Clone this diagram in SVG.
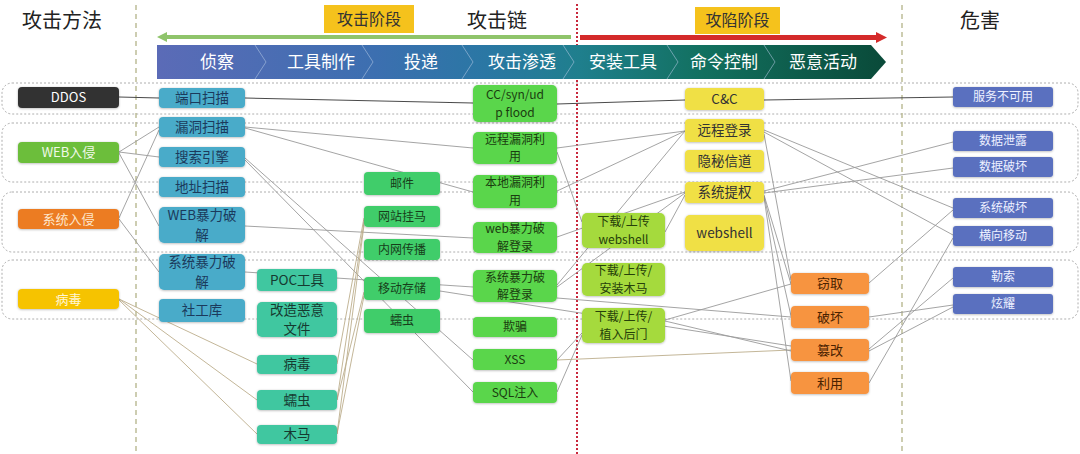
<svg xmlns="http://www.w3.org/2000/svg" width="1080" height="454" viewBox="0 0 1080 454">
<defs>
<linearGradient id="bar" gradientUnits="userSpaceOnUse" x1="157" y1="0" x2="886" y2="0">
<stop offset="0" stop-color="#5b6bb7"/>
<stop offset="0.3" stop-color="#3c6fb0"/>
<stop offset="0.45" stop-color="#2a77a4"/>
<stop offset="0.58" stop-color="#1f7f8d"/>
<stop offset="0.75" stop-color="#12705f"/>
<stop offset="1" stop-color="#0a4a39"/>
</linearGradient>
<filter id="sh" x="-10%" y="-20%" width="120%" height="140%"><feDropShadow dx="0" dy="0.6" stdDeviation="0.9" flood-color="#000" flood-opacity="0.3"/></filter>
</defs>
<style>
text{font-family:"Noto Sans CJK SC","Noto Sans",sans-serif;text-anchor:middle}
.hdr{font-size:20px;fill:#222}
.stage{font-size:16px;fill:#333}
.chev{font-size:17px;fill:#fff}
.band{fill:none;stroke:#9a9a9a;stroke-width:0.8;stroke-dasharray:2 2}
.vd{stroke:#b3b388;stroke-width:1.3;stroke-dasharray:5 4;fill:none}
.rd{stroke:#c8283c;stroke-width:2;stroke-dasharray:2 2;fill:none}
.sep{fill:none;stroke:#b7cbe6;stroke-opacity:0.55;stroke-width:1}
.ln{stroke:#9a9a9a;stroke-width:0.9;fill:none}
.lo{stroke:#bcae8c;stroke-width:0.9;fill:none}
.ld{stroke:#4a4a4a;stroke-width:1.1;fill:none}
.n rect{filter:url(#sh)}
.m text{font-size:13px}
.r rect{fill:#4aabc9}.r text{font-size:13.5px;fill:#1b3a5c}
.t rect{fill:#40c7a0}.t text{font-size:13.5px;fill:#163a30}
.d rect{fill:#40cd6a}.d text{font-size:12px;fill:#173d1a}
.e rect{fill:#5ad64c}.e text{font-size:12px;fill:#1b3d10}
.i rect{fill:#a5da3e}.i text{font-size:12px;fill:#26400a}
.c rect{fill:#f0e044}.c text{font-size:13.5px;fill:#333}
.a rect{fill:#f7943f}.a text{font-size:13px;fill:#4a2200}
.h rect{fill:#5a70bf}.h text{font-size:12px;fill:#eef1ff}
</style>

<g id="bands">
<rect class="band" x="2" y="83" width="1076" height="31" rx="10"/>
<rect class="band" x="2" y="123" width="1076" height="59" rx="10"/>
<rect class="band" x="2" y="192" width="1076" height="60" rx="10"/>
<rect class="band" x="2" y="260" width="1076" height="59" rx="10"/>
</g>

<g id="dividers">
<line class="vd" x1="136" y1="5" x2="136" y2="454"/>
<line class="vd" x1="902" y1="5" x2="902" y2="454"/>
<line class="rd" x1="577" y1="4" x2="577" y2="454"/>
</g>

<g id="headers">
<text class="hdr" x="62" y="27.5">攻击方法</text>
<text class="hdr" x="497" y="27.5">攻击链</text>
<text class="hdr" x="980" y="27.5">危害</text>
</g>

<g id="stage-attack">
<rect x="324" y="5" width="90" height="28" fill="#f5c21c"/>
<text class="stage" x="369" y="25">攻击阶段</text>
<line x1="165" y1="37" x2="571" y2="37" stroke="#8fc46b" stroke-width="4"/>
<polygon points="157,37 167,32 167,42" fill="#8fc46b"/>
</g>

<g id="stage-compromise">
<rect x="695" y="7" width="85" height="27" fill="#f5c21c"/>
<text class="stage" x="737.5" y="26">攻陷阶段</text>
<line x1="580" y1="37.5" x2="877" y2="37.5" stroke="#d42a2a" stroke-width="5"/>
<polygon points="876,32 887,37.5 876,43" fill="#d42a2a"/>
</g>

<g id="chain">
<polygon points="157,45 871,45 886,62 871,79 157,79" fill="url(#bar)"/>
<polyline class="sep" points="255,45 266,62 255,79"/>
<polyline class="sep" points="362,45 373,62 362,79"/>
<polyline class="sep" points="462,45 473,62 462,79"/>
<polyline class="sep" points="563,45 574,62 563,79"/>
<polyline class="sep" points="667,45 678,62 667,79"/>
<polyline class="sep" points="764,45 775,62 764,79"/>
<text class="chev" x="217" y="68">侦察</text>
<text class="chev" x="321" y="68">工具制作</text>
<text class="chev" x="421" y="68">投递</text>
<text class="chev" x="522" y="68">攻击渗透</text>
<text class="chev" x="623" y="68">安装工具</text>
<text class="chev" x="724" y="68">命令控制</text>
<text class="chev" x="823" y="68">恶意活动</text>
</g>

<g id="connectors">
<line class="ld" x1="119" y1="97" x2="159" y2="98"/>
<line class="ld" x1="245" y1="98" x2="473" y2="103"/>
<line class="ld" x1="557" y1="104" x2="685" y2="100"/>
<line class="ld" x1="764" y1="100" x2="953" y2="97"/>
<line class="ln" x1="119" y1="152" x2="159" y2="127"/>
<line class="ln" x1="119" y1="152" x2="159" y2="157"/>
<line class="ln" x1="119" y1="153" x2="159" y2="226"/>
<line class="ln" x1="119" y1="218" x2="159" y2="130"/>
<line class="ln" x1="119" y1="219" x2="159" y2="272"/>
<line class="lo" x1="119" y1="299" x2="257" y2="364"/>
<line class="lo" x1="119" y1="299" x2="257" y2="400"/>
<line class="lo" x1="119" y1="300" x2="257" y2="434"/>
<line class="ln" x1="245" y1="127" x2="473" y2="148"/>
<line class="ln" x1="245" y1="128" x2="473" y2="192"/>
<line class="ln" x1="245" y1="158" x2="473" y2="360"/>
<line class="ln" x1="245" y1="160" x2="473" y2="392"/>
<line class="ln" x1="245" y1="226" x2="473" y2="238"/>
<line class="ln" x1="245" y1="272" x2="473" y2="287"/>
<line class="lo" x1="337" y1="364" x2="364" y2="218"/>
<line class="lo" x1="337" y1="400" x2="364" y2="222"/>
<line class="lo" x1="337" y1="400" x2="364" y2="292"/>
<line class="lo" x1="337" y1="434" x2="364" y2="296"/>
<line class="lo" x1="337" y1="434" x2="364" y2="225"/>
<line class="ln" x1="440" y1="291" x2="791" y2="346"/>
<line class="ln" x1="557" y1="148" x2="685" y2="131"/>
<line class="ln" x1="557" y1="191" x2="685" y2="131"/>
<line class="ln" x1="557" y1="152" x2="582" y2="222"/>
<line class="ln" x1="557" y1="237" x2="685" y2="192"/>
<line class="ln" x1="557" y1="285" x2="685" y2="131"/>
<line class="ln" x1="557" y1="287" x2="685" y2="193"/>
<line class="ln" x1="665" y1="232" x2="685" y2="195"/>
<line class="ln" x1="557" y1="360" x2="582" y2="333"/>
<line class="ln" x1="557" y1="392" x2="582" y2="335"/>
<line class="lo" x1="557" y1="360" x2="791" y2="350"/>
<line class="ln" x1="557" y1="298" x2="791" y2="317"/>
<line class="ln" x1="665" y1="320" x2="791" y2="284"/>
<line class="ln" x1="665" y1="321" x2="791" y2="351"/>
<line class="ln" x1="764" y1="130" x2="953" y2="208"/>
<line class="ln" x1="764" y1="132" x2="953" y2="235"/>
<line class="ln" x1="764" y1="191" x2="953" y2="142"/>
<line class="ln" x1="764" y1="193" x2="953" y2="168"/>
<line class="ln" x1="764" y1="134" x2="791" y2="280"/>
<line class="ln" x1="764" y1="195" x2="791" y2="284"/>
<line class="ln" x1="764" y1="196" x2="791" y2="316"/>
<line class="ln" x1="764" y1="197" x2="791" y2="381"/>
<line class="ln" x1="869" y1="283" x2="953" y2="210"/>
<line class="ln" x1="869" y1="383" x2="953" y2="238"/>
<line class="ln" x1="869" y1="317" x2="953" y2="305"/>
<line class="ln" x1="869" y1="349" x2="953" y2="278"/>
<line class="ln" x1="869" y1="351" x2="953" y2="307"/>
</g>

<g id="m-ddos" class="n m"><rect x="18" y="87" width="101" height="21" rx="4" fill="#333"/><text x="68.5" y="102.2" fill="#fff">DDOS</text></g>
<g id="m-web" class="n m"><rect x="18" y="142" width="101" height="21" rx="4" fill="#6cbe3a"/><text x="68.5" y="157.2" fill="#f0f9e8">WEB入侵</text></g>
<g id="m-sys" class="n m"><rect x="18" y="209" width="101" height="20" rx="4" fill="#ec7c22"/><text x="68.5" y="223.7" fill="#fde6cc">系统入侵</text></g>
<g id="m-virus" class="n m"><rect x="18" y="289" width="101" height="20" rx="4" fill="#f6c300"/><text x="68.5" y="303.7" fill="#fff6d6">病毒</text></g>

<g id="r-port" class="n r"><rect x="159" y="88" width="86" height="20" rx="4"/><text x="202" y="102.9">端口扫描</text></g>
<g id="r-vuln" class="n r"><rect x="159" y="117" width="86" height="20" rx="4"/><text x="202" y="131.9">漏洞扫描</text></g>
<g id="r-search" class="n r"><rect x="159" y="147" width="86" height="20" rx="4"/><text x="202" y="161.9">搜索引擎</text></g>
<g id="r-addr" class="n r"><rect x="159" y="177" width="86" height="20" rx="4"/><text x="202" y="191.9">地址扫描</text></g>
<g id="r-webbf" class="n r"><rect x="159" y="207" width="86" height="36" rx="5"/><text x="202" y="220">WEB暴力破<tspan x="202" dy="19.8">解</tspan></text></g>
<g id="r-sysbf" class="n r"><rect x="159" y="254" width="86" height="36" rx="5"/><text x="202" y="267">系统暴力破<tspan x="202" dy="19.8">解</tspan></text></g>
<g id="r-social" class="n r"><rect x="159" y="299" width="86" height="23" rx="4"/><text x="202" y="315.4">社工库</text></g>

<g id="t-poc" class="n t"><rect x="257" y="269" width="80" height="22" rx="4"/><text x="297" y="284.9">POC工具</text></g>
<g id="t-mod" class="n t"><rect x="257" y="302" width="80" height="35" rx="5"/><text x="297" y="314.5">改造恶意<tspan x="297" dy="19.8">文件</tspan></text></g>
<g id="t-virus" class="n t"><rect x="257" y="355" width="80" height="19" rx="4"/><text x="297" y="369.4">病毒</text></g>
<g id="t-worm" class="n t"><rect x="257" y="390" width="80" height="20" rx="4"/><text x="297" y="404.9">蠕虫</text></g>
<g id="t-trojan" class="n t"><rect x="257" y="425" width="80" height="19" rx="4"/><text x="297" y="439.4">木马</text></g>

<g id="d-mail" class="n d"><rect x="364" y="172" width="76" height="23" rx="4"/><text x="402" y="187.8">邮件</text></g>
<g id="d-site" class="n d"><rect x="364" y="206" width="76" height="21" rx="4"/><text x="402" y="220.8">网站挂马</text></g>
<g id="d-lan" class="n d"><rect x="364" y="239" width="76" height="21" rx="4"/><text x="402" y="253.8">内网传播</text></g>
<g id="d-usb" class="n d"><rect x="364" y="277" width="76" height="23" rx="4"/><text x="402" y="292.8">移动存储</text></g>
<g id="d-worm" class="n d"><rect x="364" y="309" width="76" height="24" rx="4"/><text x="402" y="325.3">蠕虫</text></g>

<g id="e-flood" class="n e"><rect x="473" y="85" width="84" height="37" rx="5"/><text x="515" y="99">CC/syn/ud<tspan x="515" dy="17.6">p flood</tspan></text></g>
<g id="e-remote" class="n e"><rect x="473" y="132" width="84" height="32" rx="5"/><text x="515" y="143.5">远程漏洞利<tspan x="515" dy="17.6">用</tspan></text></g>
<g id="e-local" class="n e"><rect x="473" y="175" width="84" height="33" rx="5"/><text x="515" y="187">本地漏洞利<tspan x="515" dy="17.6">用</tspan></text></g>
<g id="e-webbf" class="n e"><rect x="473" y="222" width="84" height="31" rx="5"/><text x="515" y="233">web暴力破<tspan x="515" dy="17.6">解登录</tspan></text></g>
<g id="e-sysbf" class="n e"><rect x="473" y="270" width="84" height="32" rx="5"/><text x="515" y="281.5">系统暴力破<tspan x="515" dy="17.6">解登录</tspan></text></g>
<g id="e-spoof" class="n e"><rect x="473" y="317" width="84" height="20" rx="4"/><text x="515" y="331.3">欺骗</text></g>
<g id="e-xss" class="n e"><rect x="473" y="349" width="84" height="21" rx="4"/><text x="515" y="363.8">XSS</text></g>
<g id="e-sql" class="n e"><rect x="473" y="382" width="84" height="21" rx="4"/><text x="515" y="396.8">SQL注入</text></g>

<g id="i-webshell" class="n i"><rect x="582" y="213" width="83" height="35" rx="5"/><text x="623.5" y="226">下载/上传<tspan x="623.5" dy="17.6">webshell</tspan></text></g>
<g id="i-trojan" class="n i"><rect x="582" y="263" width="83" height="33" rx="5"/><text x="623.5" y="275">下载/上传/<tspan x="623.5" dy="17.6">安装木马</tspan></text></g>
<g id="i-backdoor" class="n i"><rect x="582" y="308" width="83" height="35" rx="5"/><text x="623.5" y="321">下载/上传/<tspan x="623.5" dy="17.6">植入后门</tspan></text></g>

<g id="c-cc" class="n c"><rect x="685" y="88" width="79" height="22" rx="4"/><text x="724.5" y="103.9">C&amp;C</text></g>
<g id="c-login" class="n c"><rect x="685" y="119" width="79" height="23" rx="4"/><text x="724.5" y="135.4">远程登录</text></g>
<g id="c-covert" class="n c"><rect x="685" y="150" width="79" height="22" rx="4"/><text x="724.5" y="165.9">隐秘信道</text></g>
<g id="c-priv" class="n c"><rect x="685" y="182" width="79" height="21" rx="4"/><text x="724.5" y="197.4">系统提权</text></g>
<g id="c-webshell" class="n c"><rect x="685" y="215" width="79" height="36" rx="5"/><text x="724.5" y="237.9">webshell</text></g>

<g id="a-steal" class="n a"><rect x="791" y="273" width="78" height="21" rx="4"/><text x="830" y="288.2">窃取</text></g>
<g id="a-destroy" class="n a"><rect x="791" y="306" width="78" height="22" rx="4"/><text x="830" y="321.7">破坏</text></g>
<g id="a-tamper" class="n a"><rect x="791" y="339" width="78" height="22" rx="4"/><text x="830" y="354.7">篡改</text></g>
<g id="a-use" class="n a"><rect x="791" y="372" width="78" height="22" rx="4"/><text x="830" y="387.7">利用</text></g>

<g id="h-dos" class="n h"><rect x="953" y="87" width="100" height="20" rx="3"/><text x="1003" y="101.3">服务不可用</text></g>
<g id="h-leak" class="n h"><rect x="953" y="131" width="100" height="20" rx="3"/><text x="1003" y="145.3">数据泄露</text></g>
<g id="h-datadmg" class="n h"><rect x="953" y="157" width="100" height="20" rx="3"/><text x="1003" y="171.3">数据破坏</text></g>
<g id="h-sysdmg" class="n h"><rect x="953" y="198" width="100" height="20" rx="3"/><text x="1003" y="212.3">系统破坏</text></g>
<g id="h-lateral" class="n h"><rect x="953" y="226" width="100" height="20" rx="3"/><text x="1003" y="240.3">横向移动</text></g>
<g id="h-ransom" class="n h"><rect x="953" y="267" width="100" height="20" rx="3"/><text x="1003" y="281.3">勒索</text></g>
<g id="h-show" class="n h"><rect x="953" y="294" width="100" height="20" rx="3"/><text x="1003" y="308.3">炫耀</text></g>
</svg>
